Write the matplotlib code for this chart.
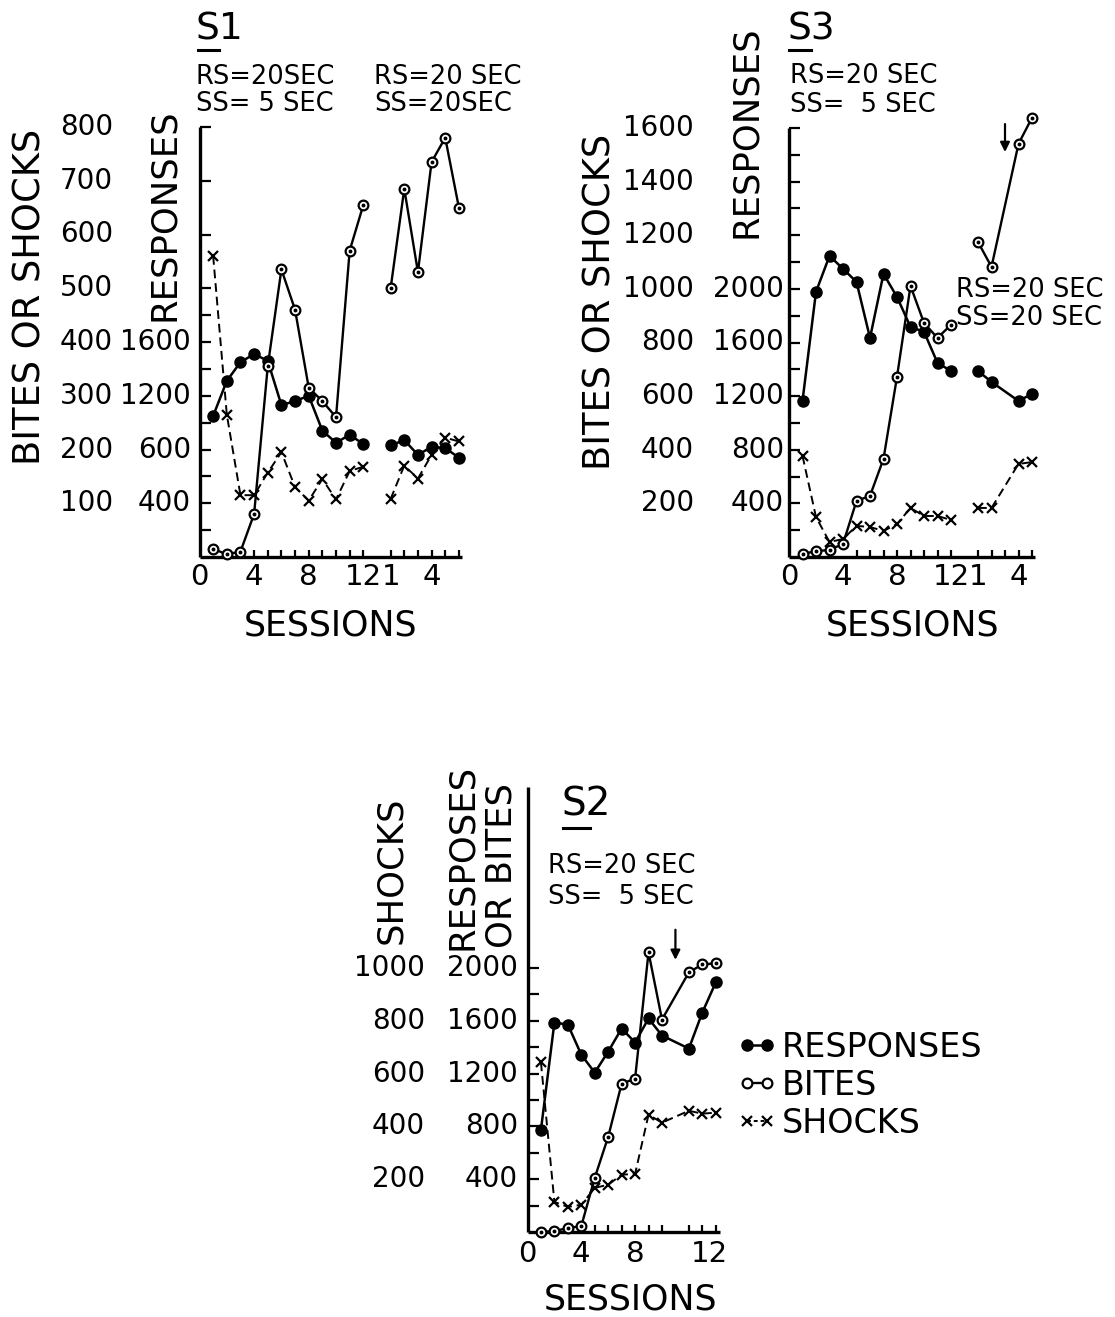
"""Bites, shocks and responses per session for subjects S1, S3 and S2."""

import matplotlib
matplotlib.use("Agg")
import matplotlib.pyplot as plt
from matplotlib.lines import Line2D
from matplotlib.transforms import Affine2D, IdentityTransform, blended_transform_factory

plt.rcParams["font.family"] = ["DejaVu Sans"]

W, H = 1115, 1317
PHASE_B = 13  # axis position of session 0 of the second condition

# ---- S1 ----
S1_SESS_A = [1, 2, 3, 4, 5, 6, 7, 8, 9, 10, 11, 12]
S1_SESS_B = [1, 2, 3, 4, 5, 6]
S1_RESP_A = [1050, 1310, 1450, 1510, 1460, 1130, 1160, 1200, 940, 850, 910, 840]
S1_RESP_B = [830, 870, 760, 820, 810, 740]
S1_BITES_A = [15, 5, 10, 80, 355, 535, 460, 315, 290, 260, 570, 655]
S1_BITES_B = [500, 685, 530, 735, 780, 650]
S1_SHOCK_A = [560, 265, 115, 115, 157, 195, 130, 105, 145, 107, 160, 168]
S1_SHOCK_B = [108, 170, 146, 190, 222, 215]
S1_LEFT_TICKS = [100, 200, 300, 400, 500, 600, 700, 800]
S1_RESP_TICKS = [400, 800, 1200, 1600]
S1_RESP_TEXT = ["400", "600", "1200", "1600"]  # as printed on the original

# ---- S3 ----
S3_SESS_A = [1, 2, 3, 4, 5, 6, 7, 8, 9, 10, 11, 12]
S3_SESS_B = [1, 2, 4, 5]
S3_RESP_A = [1164, 1978, 2246, 2150, 2052, 1634, 2112, 1940, 1716, 1680, 1448, 1388]
S3_RESP_B = [1388, 1306, 1164, 1216]
S3_BITES_A = [11, 22, 26, 49, 209, 228, 366, 672, 1011, 873, 817, 866]
S3_BITES_B = [1175, 1082, 1541, 1638]
S3_SHOCK_A = [377, 149, 56, 67, 116, 112, 97, 123, 183, 153, 153, 138]
S3_SHOCK_B = [183, 183, 347, 354]
S3_LEFT_TICKS = [200, 400, 600, 800, 1000, 1200, 1400, 1600]
S3_RESP_TICKS = [400, 800, 1200, 1600, 2000]

# ---- S2 ----
S2_SESS = [1, 2, 3, 4, 5, 6, 7, 8, 9, 10, 12, 13, 14]
S2_RESP = [774, 1586, 1571, 1343, 1207, 1366, 1541, 1435, 1617, 1488, 1389, 1662, 1890]
S2_BITES = [0, 7, 30, 45, 410, 721, 1123, 1161, 2118, 1609, 1966, 2027, 2034]
S2_SHOCK = [642, 114, 95, 103, 167, 179, 217, 220, 444, 414, 459, 448, 452]
S2_SHOCK_TICKS = [200, 400, 600, 800, 1000]
S2_RESP_TICKS = [400, 800, 1200, 1600, 2000]

SESSION_TEXT_AB = ["0", "4", "8", "12", "1", "4"]
SESSION_TEXT_S2 = ["0", "4", "8", "12"]

fig = plt.figure(figsize=(W / 100, H / 100), dpi=100)
FIG_PX = Affine2D().scale(1, -1).translate(0, H)  # pixels from top-left


def px_axes(left, right, top, bottom):
    return fig.add_axes([left / W, 1 - bottom / H, (right - left) / W, (bottom - top) / H])


def style_axes(ax, xlim, ylim, xticks, yticks):
    ax.set_xlim(*xlim)
    ax.set_ylim(*ylim)
    ax.patch.set_visible(False)
    for side in ("top", "right"):
        ax.spines[side].set_visible(False)
    for side in ("left", "bottom"):
        ax.spines[side].set_linewidth(2.4)
        ax.spines[side].set_capstyle("butt")
    ax.set_xticks(xticks)
    ax.set_yticks(yticks)
    ax.tick_params(axis="y", direction="in", length=8, width=1.6, labelleft=False)
    ax.tick_params(axis="x", direction="in", length=5, width=1.6, labelbottom=False)


def ftext(x, y, s, **kw):
    kw.setdefault("fontsize", 18.5)
    return fig.text(x, y, s, transform=FIG_PX, **kw)


def ylabel_col(ax, x_px, values, labels, scale=1.0, size=20):
    tr = blended_transform_factory(IdentityTransform(), ax.transData)
    for v, s in zip(values, labels):
        ax.text(x_px, v * scale, s, transform=tr, ha="right", va="center",
                fontsize=size, clip_on=False)


def xlabel_row(ax, positions, labels, y_px, size=21):
    tr = blended_transform_factory(ax.transData, FIG_PX)
    for p, s in zip(positions, labels):
        ax.text(p, y_px, s, transform=tr, ha="center", va="center",
                fontsize=size, clip_on=False)


def draw_series(ax, x, resp, bites, shock, resp_scale=1.0, shock_scale=1.0):
    ax.plot(x, [r * resp_scale for r in resp], color="black", lw=1.8, marker="o",
            ms=8, clip_on=False, zorder=3)
    ax.plot(x, bites, color="black", lw=1.7, marker="o", ms=7, mfc="white",
            mec="black", mew=1.6, clip_on=False, zorder=4)
    ax.plot(x, bites, ls="none", marker="o", ms=1.8, color="black", clip_on=False, zorder=5)
    ax.plot(x, [s * shock_scale for s in shock], color="black", lw=1.4,
            ls=(0, (4.5, 2.5)), marker="x", ms=6.5, mew=1.6, clip_on=False, zorder=2)


def underline(x0, x1, y):
    fig.add_artist(Line2D([x0, x1], [y, y], transform=FIG_PX, color="black", lw=2.2))


# ================= S1 =================
ax1 = px_axes(199.5, 462.3, 127, 557)
style_axes(ax1, (0, 19.25), (0, 800),
           list(range(4, 13)) + [PHASE_B + k for k in S1_SESS_B],
           [50, 100, 150, 200, 250, 300, 350, 400, 450, 500, 600, 700, 800])
draw_series(ax1, S1_SESS_A, S1_RESP_A, S1_BITES_A, S1_SHOCK_A, resp_scale=0.25)
draw_series(ax1, [PHASE_B + k for k in S1_SESS_B], S1_RESP_B, S1_BITES_B, S1_SHOCK_B,
            resp_scale=0.25)
ylabel_col(ax1, 113, S1_LEFT_TICKS, [str(v) for v in S1_LEFT_TICKS])
ylabel_col(ax1, 191, S1_RESP_TICKS, S1_RESP_TEXT, scale=0.25)
xlabel_row(ax1, [0, 4, 8, 12, PHASE_B + 1, PHASE_B + 4], SESSION_TEXT_AB, 577)
ftext(330, 625, "SESSIONS", fontsize=25, ha="center", va="center")
ftext(30, 297, "BITES OR SHOCKS", fontsize=26.5, rotation=90, ha="center", va="center")
ftext(164, 215, "RESPONSES", fontsize=25.5, rotation=90, ha="center", va="center")
ftext(196, 30, "S1", fontsize=27, ha="left", va="center")
underline(198, 219, 50)
ftext(196, 77, "RS=20SEC", ha="left", va="center")
ftext(196, 104, "SS= 5 SEC", ha="left", va="center")
ftext(374, 77, "RS=20 SEC", ha="left", va="center")
ftext(374, 104, "SS=20SEC", ha="left", va="center")

# ================= S3 =================
ax3 = px_axes(789, 1034.7, 128, 557)
style_axes(ax3, (0, 18.2), (0, 1600),
           list(range(5, 13)) + [PHASE_B + k for k in range(1, 6)],
           list(range(100, 1700, 100)))
draw_series(ax3, S3_SESS_A, S3_RESP_A, S3_BITES_A, S3_SHOCK_A, resp_scale=0.5)
draw_series(ax3, [PHASE_B + k for k in S3_SESS_B], S3_RESP_B, S3_BITES_B, S3_SHOCK_B,
            resp_scale=0.5)
ax3.annotate("", xy=(PHASE_B + 3, 1500), xytext=(PHASE_B + 3, 1625),
             arrowprops=dict(arrowstyle="-|>", color="black", lw=1.6, mutation_scale=14),
             annotation_clip=False)
ylabel_col(ax3, 694, S3_LEFT_TICKS, [str(v) for v in S3_LEFT_TICKS])
ylabel_col(ax3, 784, S3_RESP_TICKS, [str(v) for v in S3_RESP_TICKS], scale=0.5)
xlabel_row(ax3, [0, 4, 8, 12, PHASE_B + 1, PHASE_B + 4], SESSION_TEXT_AB, 577)
ftext(912, 625, "SESSIONS", fontsize=25, ha="center", va="center")
ftext(600, 302, "BITES OR SHOCKS", fontsize=26.5, rotation=90, ha="center", va="center")
ftext(746, 132, "RESPONSES", fontsize=25.5, rotation=90, ha="center", va="center")
ftext(787, 30, "S3", fontsize=27, ha="left", va="center")
underline(789, 811, 50)
ftext(790, 76, "RS=20 SEC", ha="left", va="center")
ftext(790, 105, "SS=  5 SEC", ha="left", va="center")
ftext(956, 290, "RS=20 SEC", ha="left", va="center")
ftext(956, 318, "SS=20 SEC", ha="left", va="center")

# ================= S2 =================
ax2 = px_axes(527.5, 719.8, 787, 1232)
style_axes(ax2, (0, 14.3), (0, 3370), [5, 6, 7, 8, 9, 10, 12, 13, 14],
           list(range(200, 2200, 200)))
draw_series(ax2, S2_SESS, S2_RESP, S2_BITES, S2_SHOCK, shock_scale=2.0)
ax2.annotate("", xy=(11, 2040), xytext=(11, 2310),
             arrowprops=dict(arrowstyle="-|>", color="black", lw=1.6, mutation_scale=14),
             annotation_clip=False)
ylabel_col(ax2, 425, S2_SHOCK_TICKS, [str(v) for v in S2_SHOCK_TICKS], scale=2.0)
ylabel_col(ax2, 518, S2_RESP_TICKS, [str(v) for v in S2_RESP_TICKS])
xlabel_row(ax2, [0, 4, 8, 13.5], SESSION_TEXT_S2, 1254)
ftext(630, 1300, "SESSIONS", fontsize=25, ha="center", va="center")
ftext(391, 870, "SHOCKS", fontsize=25.5, rotation=90, ha="center", va="center")
ftext(462, 857, "RESPOSES", fontsize=25.5, rotation=90, ha="center", va="center")
ftext(502, 865, "OR BITES", fontsize=25.5, rotation=90, ha="center", va="center")
ftext(562, 805, "S2", fontsize=28, ha="left", va="center")
underline(563, 590, 828)
ftext(548, 866, "RS=20 SEC", ha="left", va="center")
ftext(548, 897, "SS=  5 SEC", ha="left", va="center")

# legend
handles = [
    Line2D([], [], color="black", lw=1.8, marker="o", ms=8),
    Line2D([], [], color="black", lw=1.7, marker="o", ms=7, mfc="white", mew=1.6),
    Line2D([], [], color="black", lw=1.4, ls=(0, (2, 1.5)), marker="x", ms=6.5, mew=1.6),
]
fig.legend(handles, ["RESPONSES", "BITES", "SHOCKS"], loc="upper left",
           bbox_to_anchor=(737 / W, 1 - 1031 / H), frameon=False, fontsize=24,
           handlelength=1.2, handletextpad=0.15, labelspacing=0.15, borderpad=0,
           borderaxespad=0, numpoints=2)

fig.savefig("out.png", dpi=100)
